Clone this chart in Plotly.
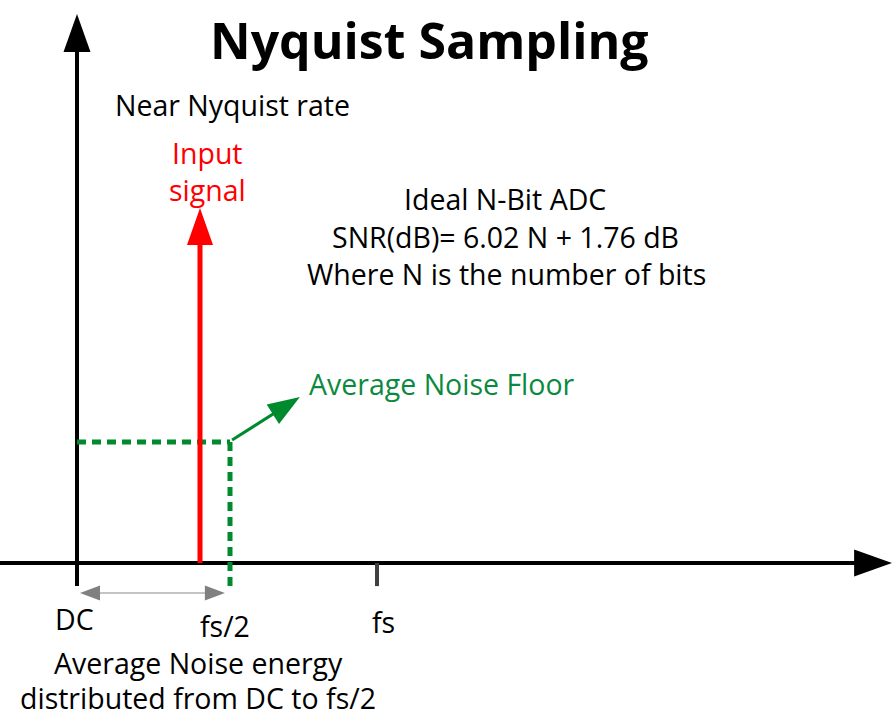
import numpy as np
import plotly.graph_objects as go

# frequency axis in units of fs, amplitude in the same units (1 unit = 300 px)
freq_labels = ["DC", "fs/2", "fs"]
freq_pos = [0.0, 0.51, 1.0]
signal_freq = 0.41
signal_amp = 1.183
noise_floor = 0.403
x_axis_end = 2.717
y_axis_end = 1.83
tick_depth = -0.077
noise_pointer = [(0.517, 0.41), (0.743, 0.553)]
span_arrow = [(0.01, -0.1), (0.493, -0.1)]

W, H = 892, 720
SCALE = 300.0
X0, Y0 = 77, 563  # pixel position of the origin
xr = [-X0 / SCALE, (W - X0) / SCALE]
yr = [-(H - Y0) / SCALE, Y0 / SCALE]

FONT = "Open Sans"
BODY = 28.5
GREEN = "#008a2e"
GREEN_TXT = "#0b8a3f"

fig = go.Figure()


def line(xs, ys, color, width, dash="solid"):
    fig.add_trace(go.Scatter(x=xs, y=ys, mode="lines", hoverinfo="skip",
                             line=dict(color=color, width=width, dash=dash)))


def head(tip, direction, length_px, width_px, color):
    u = np.array(direction, dtype=float)
    u /= np.linalg.norm(u)
    p = np.array([-u[1], u[0]])
    t = np.array(tip, dtype=float)
    base = t - u * length_px / SCALE
    a = base + p * width_px / 2 / SCALE
    b = base - p * width_px / 2 / SCALE
    fig.add_shape(type="path", xref="x", yref="y",
                  path=f"M{t[0]},{t[1]} L{a[0]},{a[1]} L{b[0]},{b[1]} Z",
                  fillcolor=color, line=dict(width=0))


# axes
line([xr[0], x_axis_end - 0.1], [0, 0], "black", 4)
head((x_axis_end, 0), (1, 0), 38, 27, "black")
line([0, 0], [tick_depth, y_axis_end - 0.1], "black", 4)
head((0, y_axis_end), (0, 1), 38, 27, "black")
line([freq_pos[2], freq_pos[2]], [tick_depth, 0], "#404040", 4)

# noise floor
line([0, freq_pos[1]], [noise_floor, noise_floor], GREEN, 5, "9px,6px")
line([freq_pos[1], freq_pos[1]], [noise_floor, -0.09], GREEN, 5, "9px,6px")

# input signal
line([signal_freq, signal_freq], [0, signal_amp - 0.1], "#ff0000", 5)
head((signal_freq, signal_amp), (0, 1), 37, 26, "#ff0000")

# pointer to the noise floor label
(px0, py0), (px1, py1) = noise_pointer
d = np.hypot(px1 - px0, py1 - py0)
line([px0, px1 - 0.07 * (px1 - px0) / d], [py0, py1 - 0.07 * (py1 - py0) / d], GREEN, 3)
head((px1, py1), (px1 - px0, py1 - py0), 32, 23, GREEN)

# DC .. fs/2 span
(sx0, sy0), (sx1, sy1) = span_arrow
line([sx0 + 0.04, sx1 - 0.04], [sy0, sy1], "#b0b0b0", 1.5)
head((sx0, sy0), (-1, 0), 20, 15, "#808080")
head((sx1, sy1), (1, 0), 20, 15, "#808080")


def text(x, y, s, size=BODY, color="black", anchor="center", bold=False):
    fig.add_annotation(x=x, y=y, xref="paper", yref="paper", text=s,
                       showarrow=False, xanchor=anchor, yanchor="middle",
                       font=dict(family=FONT, size=size, color=color,
                                 weight="bold" if bold else "normal"))


def px(x, y):
    return x / W, 1 - y / H


text(*px(429, 40), "Nyquist Sampling", size=50, bold=True)
text(*px(233, 105), "Near Nyquist rate")
text(*px(207, 153), "Input", color="#ff0000")
text(*px(207, 190), "signal", color="#ff0000")
text(*px(505, 199), "Ideal N-Bit ADC")
text(*px(505, 237), "SNR(dB)= 6.02 N + 1.76 dB")
text(*px(506, 274), "Where N is the number of bits")
text(*px(307, 384), "Average Noise Floor", color=GREEN_TXT, anchor="left")
text(*px(198, 663), "Average Noise energy")
text(*px(198, 698), "distributed from DC to fs/2")

label_dx = [-0.007, -0.017, 0.02]
label_y = [-0.187, -0.21, -0.197]
for lab, pos, dx, ly in zip(freq_labels, freq_pos, label_dx, label_y):
    fig.add_annotation(x=pos + dx, y=ly, xref="x", yref="y", text=lab,
                       showarrow=False, yanchor="middle",
                       font=dict(family=FONT, size=BODY, color="black"))

fig.update_layout(
    width=W, height=H, margin=dict(l=0, r=0, t=0, b=0),
    plot_bgcolor="white", paper_bgcolor="white", showlegend=False,
    xaxis=dict(range=xr, visible=False, fixedrange=True),
    yaxis=dict(range=yr, visible=False, fixedrange=True),
)
fig.write_html("out.html", config={"displayModeBar": False},
               post_script="document.body.style.margin='0';")
